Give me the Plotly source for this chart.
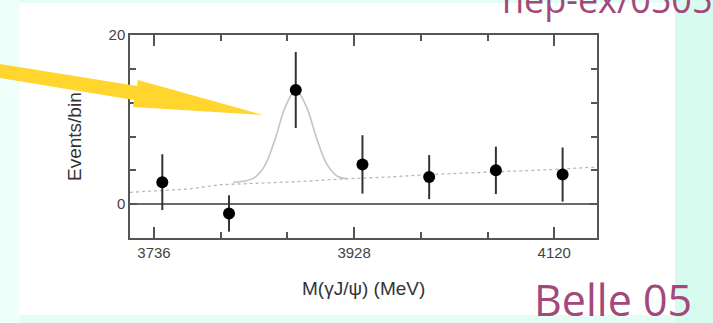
import plotly.graph_objects as go

# Binned events vs. M(gamma J/psi)
mass = [3744, 3808, 3872, 3936, 4000, 4064, 4128]
events = [2.6, -1.1, 13.5, 4.7, 3.2, 4.0, 3.5]
errors = [3.3, 2.15, 4.5, 3.45, 2.6, 2.8, 3.2]

# Background component of the fit
bkg_mass = [3713, 3740, 3770, 3800, 3840, 3880, 3920, 3960, 4000, 4040, 4080, 4120, 4161]
bkg_events = [1.4, 1.6, 1.8, 2.3, 2.5, 2.7, 3.0, 3.2, 3.5, 3.7, 3.9, 4.1, 4.4]

# Signal + background fit around the peak
fit_mass = [3812, 3822, 3832, 3842, 3852, 3862, 3872, 3882, 3892, 3902, 3912, 3922]
fit_events = [2.6, 2.7, 3.1, 4.5, 7.6, 11.5, 13.5, 11.6, 7.8, 4.7, 3.3, 3.0]

x_ticks = [3736, 3928, 4120]
y_ticks = [0, 20]

W, H = 713, 323
ML, MR, MT, MB = 130, 116, 35, 85
PW, PH = W - ML - MR, H - MT - MB


def px(x):
    return (x - ML) / PW


def py(y):
    return (H - MB - y) / PH


fig = go.Figure()
fig.add_trace(go.Scatter(x=bkg_mass, y=bkg_events, mode="lines",
                         line=dict(color="#b8b8b8", width=1.3, dash="dot"),
                         hoverinfo="skip"))
fig.add_trace(go.Scatter(x=fit_mass, y=fit_events, mode="lines",
                         line=dict(color="#c4c4c4", width=1.6, shape="spline"),
                         hoverinfo="skip"))
fig.add_trace(go.Scatter(x=mass, y=events, mode="markers",
                         marker=dict(color="black", size=12),
                         error_y=dict(type="data", array=errors, color="#333333",
                                      thickness=2, width=0)))

axis_common = dict(showgrid=False, showline=True, linecolor="#555555", linewidth=1.5,
                   mirror="allticks", ticks="inside", tickcolor="#555555", tickwidth=1.5,
                   tickfont=dict(family="Liberation Sans, Arial", size=15, color="#444444"))

fig.update_xaxes(range=[3713, 4161], tickvals=x_ticks, ticklen=11,
                 minor=dict(dtick=64, tick0=3736, ticks="inside", ticklen=6,
                            tickcolor="#555555", tickwidth=1.5),
                 zeroline=False, **axis_common)
fig.update_yaxes(range=[-4, 20], tickvals=y_ticks, ticklen=7,
                 minor=dict(dtick=4, tick0=0, ticks="inside", ticklen=6,
                            tickcolor="#555555", tickwidth=1.5),
                 zeroline=True, zerolinecolor="#6a6a6a", zerolinewidth=2,
                 **axis_common)

shapes = [
    # page panels
    dict(type="rect", xref="paper", yref="paper", x0=px(0), x1=px(20), y0=py(H), y1=py(0),
         fillcolor="#effffa", line_width=0, layer="below"),
    dict(type="rect", xref="paper", yref="paper", x0=px(675), x1=px(W), y0=py(H), y1=py(0),
         fillcolor="#d8fbef", line_width=0, layer="below"),
    dict(type="rect", xref="paper", yref="paper", x0=px(20), x1=px(675), y0=py(315), y1=py(3),
         fillcolor="white", line_width=0, layer="below"),
]

# yellow pointer towards the peak
arrow_pts = [(0, 64), (137, 86), (138, 80), (263, 115), (133, 107), (134, 100), (0, 78)]
path = "M " + " L ".join(f"{px(a):.4f},{py(b):.4f}" for a, b in arrow_pts) + " Z"
shapes.append(dict(type="path", xref="paper", yref="paper", path=path,
                   fillcolor="#ffd52e", line=dict(width=0), layer="above"))

title_font = dict(family="Liberation Sans, Arial", size=19, color="#333333")
label_font = "Comic Sans MS, Open Sans"
annotations = [
    dict(text="M(γJ/ψ) (MeV)", xref="paper", yref="paper", x=px(363), y=py(288),
         xanchor="center", yanchor="middle", showarrow=False, font=title_font),
    dict(text="Events/bin", xref="paper", yref="paper", x=px(74), y=py(137), textangle=-90,
         xanchor="center", yanchor="middle", showarrow=False, font=title_font),
    dict(text="Belle 05", xref="paper", yref="paper", x=px(532), y=py(299),
         xanchor="left", yanchor="middle", showarrow=False,
         font=dict(family=label_font, size=43, color="#a3487a")),
    dict(text="hep-ex/0505037", xref="paper", yref="paper", x=px(500), y=py(-1),
         xanchor="left", yanchor="middle", showarrow=False,
         font=dict(family=label_font, size=36, color="#a3487a")),
]

fig.update_layout(width=W, height=H, margin=dict(l=ML, r=MR, t=MT, b=MB),
                  paper_bgcolor="#e4fdf5", plot_bgcolor="white", showlegend=False,
                  shapes=shapes, annotations=annotations)

fig.write_html("out.html")
